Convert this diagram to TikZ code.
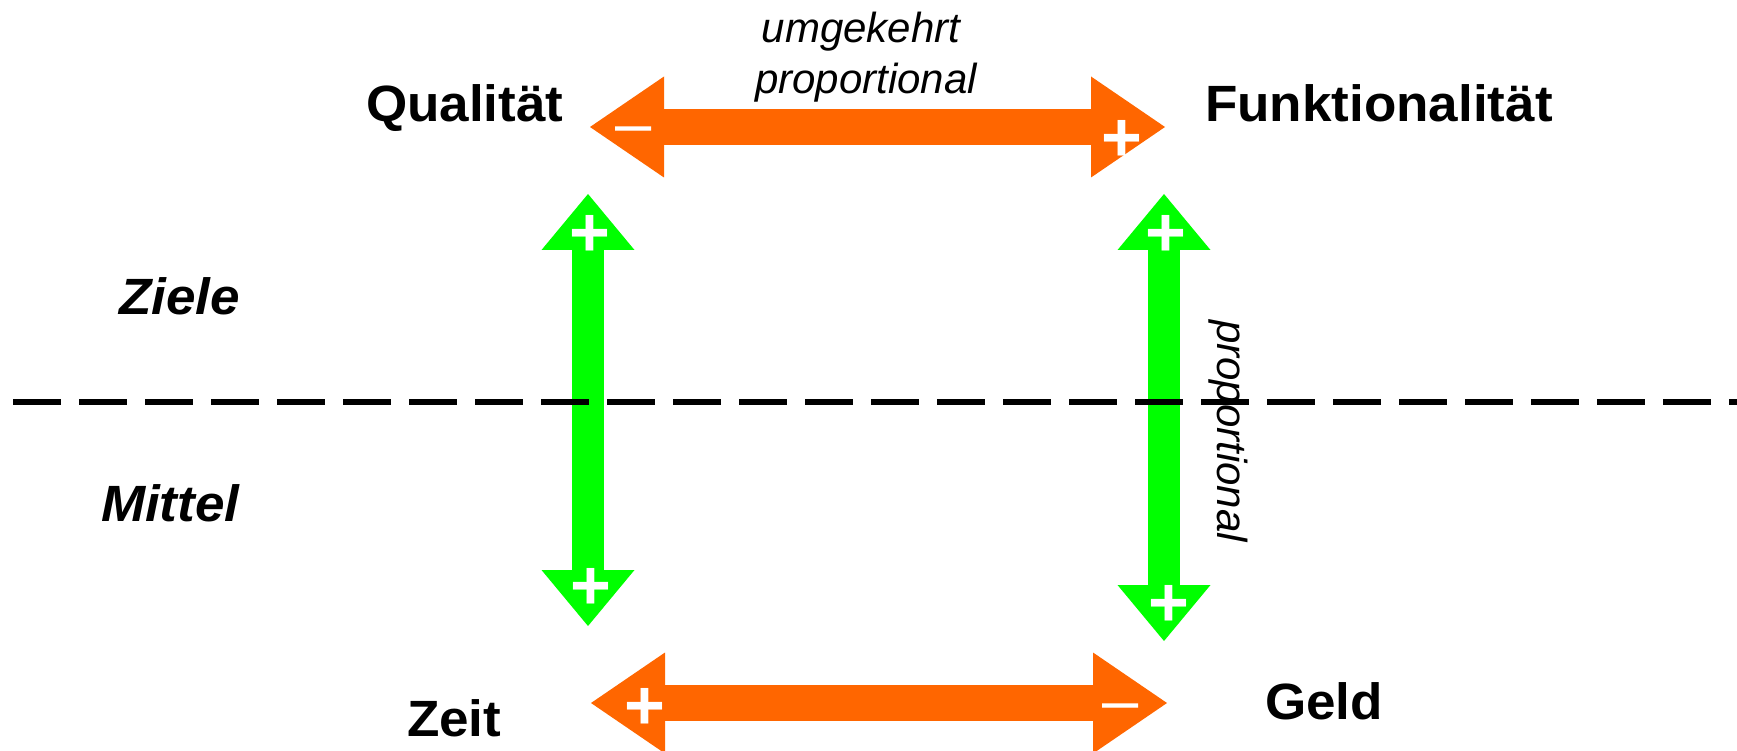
\documentclass[tikz,border=0pt]{standalone}
\usepackage{fontspec}
\setmainfont{Liberation Sans}
\usetikzlibrary{arrows.meta}
\definecolor{tradeoff}{HTML}{FF6600}
\definecolor{support}{HTML}{00FF00}
% labels are set slightly wide
\newcommand\widelabel[1]{\scalebox{1.04}[1]{#1}}

\begin{document}
\begin{tikzpicture}[x=1pt,y=-1pt,
  every node/.style={inner sep=0pt, outer sep=0pt},
  goal/.style={font=\bfseries\fontsize{51}{60}\selectfont, anchor=base west},
  layer/.style={font=\bfseries\itshape\fontsize{51}{60}\selectfont, anchor=base west},
  note/.style={font=\itshape\fontsize{42}{50}\selectfont, anchor=base},
  plussign/.style={text=white, font=\bfseries\fontsize{70}{70}\selectfont, anchor=base},
  minussign/.style={text=white, font=\fontsize{65}{65}\selectfont, anchor=base},
  inverse/.style={draw=tradeoff, line width=36pt, {Triangle[length=74pt,width=101pt,line width=0pt]}-{Triangle[length=74pt,width=101pt,line width=0pt]}},
  direct/.style={draw=support, line width=32pt, {Triangle[length=56pt,width=93pt,line width=0pt]}-{Triangle[length=56pt,width=93pt,line width=0pt]}},
  divider/.style={draw=black, line width=5.3pt, dash pattern=on 48pt off 18pt}
]
\useasboundingbox (0,0) rectangle (1737,751);

% goals and means
\node[goal] (quality) at (366,122) {\widelabel{Qualität}};
\node[goal] (function) at (1205,122) {\widelabel{Funktionalität}};
\node[goal] (time) at (407,736) {\widelabel{Zeit}};
\node[goal] (money) at (1265,719) {\widelabel{Geld}};

% layer captions
\node[layer] (goals) at (119,315) {\widelabel{Ziele}};
\node[layer] (means) at (101,521) {\widelabel{Mittel}};

% arrow end points
\coordinate (qTip) at (590,127);
\coordinate (fTip) at (1165,127);
\coordinate (tTip) at (591,703);
\coordinate (mTip) at (1167,703);
\coordinate (qDown) at (588,194);
\coordinate (tUp) at (588,626);
\coordinate (fDown) at (1164,194);
\coordinate (mUp) at (1164,641);

% trade-offs (orange) and dependencies (green)
\draw[inverse] (qTip) -- (fTip);
\draw[inverse] (tTip) -- (mTip);
\draw[direct] (qDown) -- (tUp);
\draw[direct] (fDown) -- (mUp);

% relation labels
\node[note] (inv1) at (861,43) {umgekehrt};
\node[note] (inv2) at (866,94) {proportional};
\node[note, rotate=-90] (prop) at (1217,431) {proportional};

% signs on the arrow heads
\node[minussign] (sQ) at (634,146) {–};
\node[plussign] (sF) at (1122,162) {+};
\node[plussign] (sQd) at (590,257) {+};
\node[plussign] (sTu) at (591,609) {+};
\node[plussign] (sFd) at (1166,257) {+};
\node[plussign] (sMu) at (1169,626) {+};
\node[plussign] (sT) at (645,729) {+};
\node[minussign] (sM) at (1121,722) {–};

% boundary between goals and means
\coordinate (divL) at (13,402);
\coordinate (divR) at (1737,402);
\draw[divider] (divL) -- (divR);
\end{tikzpicture}
\end{document}
